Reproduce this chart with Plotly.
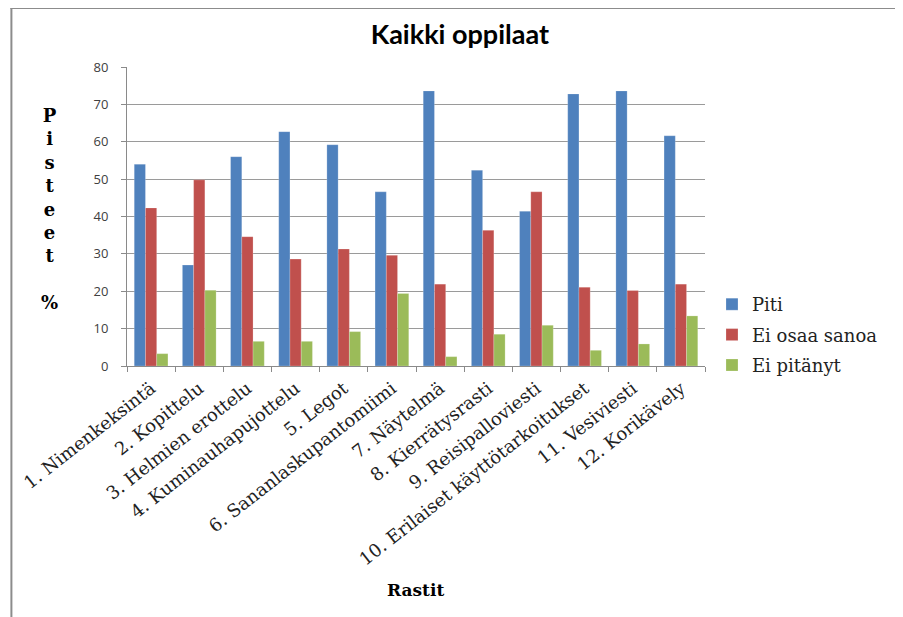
import plotly.graph_objects as go

rastit = [
    "1. Nimenkeksintä",
    "2. Kopittelu",
    "3. Helmien erottelu",
    "4. Kuminauhapujottelu",
    "5. Legot",
    "6. Sananlaskupantomiimi",
    "7. Näytelmä",
    "8. Kierrätysrasti",
    "9. Reisipalloviesti",
    "10. Erilaiset käyttötarkoitukset",
    "11. Vesiviesti",
    "12. Korikävely",
]
piti = [54.0, 27.0, 56.0, 62.7, 59.2, 46.6, 73.6, 52.4, 41.4, 72.8, 73.6, 61.6]
ei_osaa_sanoa = [42.3, 49.8, 34.6, 28.6, 31.3, 29.6, 21.9, 36.3, 46.6, 21.1, 20.2, 21.9]
ei_pitanyt = [3.3, 20.3, 6.6, 6.6, 9.2, 19.4, 2.5, 8.5, 10.9, 4.2, 5.9, 13.4]

series = [
    ("Piti", piti, "#4F81BD"),
    ("Ei osaa sanoa", ei_osaa_sanoa, "#C0504D"),
    ("Ei pitänyt", ei_pitanyt, "#9BBB59"),
]

fig = go.Figure()
for i, (name, vals, col) in enumerate(series):
    fig.add_trace(
        go.Bar(
            x=rastit,
            y=vals,
            name=name,
            legendgroup=str(i),
            marker=dict(color=col, line=dict(color="rgba(255,255,255,0.35)", width=0.6)),
        )
    )

# sivun oletusmarginaali (8 px) siirtää kuvaa, joten koordinaatit näytön pikseleinä
OFF = 8
L, R, T, B = 125 - OFF, 705 - OFF, 67 - OFF, 366 - OFF


def px_x(p):
    return (p - OFF - L) / (R - L)


def px_y(p):
    return (B - (p - OFF)) / (B - T)


W, H = 895, 609

fig.update_layout(
    width=W,
    height=H,
    margin=dict(l=L, r=W - R, t=T, b=H - B),
    paper_bgcolor="white",
    plot_bgcolor="white",
    barmode="group",
    bargap=0.3,
    bargroupgap=0,
    title=dict(
        text="<b>Kaikki oppilaat</b>",
        font=dict(family="Lato", size=27, color="black"),
        x=px_x(459),
        xref="paper",
        xanchor="center",
        y=1 - (35 - OFF) / H,
        yanchor="middle",
    ),
    legend=dict(
        x=px_x(712),
        y=px_y(286),
        xanchor="left",
        yanchor="top",
        font=dict(family="DejaVu Serif", size=18, color="#222"),
        tracegroupgap=4,
        bgcolor="rgba(0,0,0,0)",
    ),
    showlegend=True,
)

fig.update_yaxes(
    range=[0, 80],
    dtick=10,
    showgrid=True,
    gridcolor="#9a9a9a",
    gridwidth=1,
    showline=True,
    linecolor="#8a8a8a",
    linewidth=1,
    ticks="outside",
    ticklen=5,
    tickcolor="#8a8a8a",
    ticklabelstandoff=10,
    tickfont=dict(family="Open Sans", size=13, color="#404040"),
    zeroline=False,
)
fig.update_xaxes(
    showline=True,
    linecolor="#8a8a8a",
    linewidth=1,
    ticks="outside",
    tickson="boundaries",
    ticklen=5,
    tickcolor="#8a8a8a",
    tickangle=-38,
    ticklabelstandoff=4,
    tickfont=dict(family="DejaVu Serif", size=18, color="#222"),
)

# y-akselin otsikko pystysuoraan kirjain kerrallaan
fig.add_annotation(
    text="<b>P<br>i<br>s<br>t<br>e<br>e<br>t<br> <br>%</b>",
    xref="paper",
    yref="paper",
    x=px_x(47),
    y=px_y(209),
    xanchor="center",
    yanchor="middle",
    showarrow=False,
    align="center",
    font=dict(family="DejaVu Serif", size=18, color="black"),
)
fig.add_annotation(
    text="<b>Rastit</b>",
    xref="paper",
    yref="paper",
    x=px_x(414),
    y=px_y(590),
    xanchor="center",
    yanchor="middle",
    showarrow=False,
    font=dict(family="DejaVu Serif", size=17, color="black"),
)

# kaavion reunaviivat
fig.add_shape(type="line", xref="paper", yref="paper",
              x0=px_x(8), x1=px_x(920), y0=px_y(8), y1=px_y(8),
              line=dict(color="#8c8c8c", width=2))
fig.add_shape(type="line", xref="paper", yref="paper",
              x0=px_x(9), x1=px_x(9), y0=px_y(8), y1=px_y(630),
              line=dict(color="#8c8c8c", width=2))

fig.write_html("out.html")
